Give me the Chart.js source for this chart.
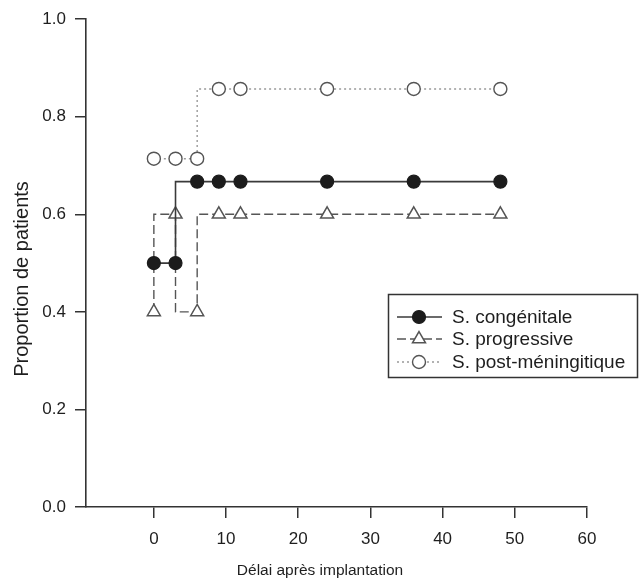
<!DOCTYPE html>
<html><head><meta charset="utf-8">
<script src="https://cdn.jsdelivr.net/npm/chart.js@4/dist/chart.umd.min.js"></script>
<style>html,body{margin:0;padding:0;background:#fff}#wrap{width:641px;height:586px}</style>
</head><body><div id="wrap"><canvas id="c" width="641" height="586"></canvas></div>
<script>
// ---- data ----
const months = [0, 3, 6, 9, 12, 24, 36, 48];
const seriesNames = ['S. congénitale', 'S. progressive', 'S. post-méningitique'];
const congenitale = [0.5, 0.5, 0.667, 0.667, 0.667, 0.667, 0.667, 0.667];
const progressive = [0.4, 0.6, 0.4, 0.6, 0.6, 0.6, 0.6, 0.6];
const postMeningitique = [0.714, 0.714, 0.714, 0.857, 0.857, 0.857, 0.857, 0.857];
const xTicks = [0, 10, 20, 30, 40, 50, 60];
const yTicks = [0, 0.2, 0.4, 0.6, 0.8, 1.0];
const yTickLabels = ['0.0', '0.2', '0.4', '0.6', '0.8', '1.0'];
const xTitle = 'Délai après implantation';
const yTitle = 'Proportion de patients';

const FONT = '"Liberation Sans", Arial, Helvetica, sans-serif';
const toPts = (vals) => months.map((m, i) => ({ x: m, y: vals[i] }));

const overlay = {
  id: 'overlay',
  afterDraw(chart) {
    const ctx = chart.ctx;
    ctx.save();
    ctx.fillStyle = '#1e1e1e';
    ctx.textBaseline = 'middle';
    // axis titles
    ctx.font = '15.5px ' + FONT;
    ctx.textAlign = 'center';
    ctx.fillText(xTitle, 320, 571);
    ctx.save();
    ctx.translate(22, 279);
    ctx.rotate(-Math.PI / 2);
    ctx.font = '20px ' + FONT;
    ctx.fillText(yTitle, 0, 0);
    ctx.restore();
    // legend box
    ctx.strokeStyle = '#333';
    ctx.lineWidth = 1.5;
    ctx.strokeRect(388.5, 294.5, 249, 83);
    const rows = [317, 339, 362];
    chart.data.datasets.forEach((ds, i) => {
      const y = rows[i];
      ctx.save();
      ctx.strokeStyle = ds.borderColor;
      ctx.lineWidth = ds.borderWidth;
      ctx.setLineDash(ds.borderDash || []);
      ctx.beginPath(); ctx.moveTo(397, y); ctx.lineTo(442, y); ctx.stroke();
      ctx.restore();
      // marker
      const cx = 419, r = ds.pointRadius;
      ctx.save();
      ctx.fillStyle = ds.pointBackgroundColor;
      ctx.strokeStyle = ds.pointBorderColor;
      ctx.lineWidth = ds.pointBorderWidth;
      ctx.setLineDash([]);
      ctx.beginPath();
      if (ds.pointStyle === 'triangle') {
        ctx.moveTo(cx, y - r);
        ctx.lineTo(cx + r * 0.866, y + r * 0.5);
        ctx.lineTo(cx - r * 0.866, y + r * 0.5);
        ctx.closePath();
      } else {
        ctx.arc(cx, y, r, 0, Math.PI * 2);
      }
      ctx.fill(); ctx.stroke();
      ctx.restore();
      ctx.fillStyle = '#1e1e1e';
      ctx.font = '19px ' + FONT;
      ctx.textAlign = 'left';
      ctx.fillText(ds.label, 452, y + 1);
    });
    ctx.restore();
  }
};

new Chart(document.getElementById('c'), {
  type: 'line',
  data: {
    datasets: [
      {
        label: seriesNames[0], data: toPts(congenitale), stepped: 'after',
        borderColor: '#3a3a3a', borderWidth: 1.6, borderDash: [],
        pointStyle: 'circle', pointRadius: 6.5, pointBackgroundColor: '#1c1c1c',
        pointBorderColor: '#1c1c1c', pointBorderWidth: 1.2
      },
      {
        label: seriesNames[1], data: toPts(progressive), stepped: 'after',
        borderColor: '#555', borderWidth: 1.4, borderDash: [9, 4],
        pointStyle: 'triangle', pointRadius: 7.5, pointBackgroundColor: '#fff',
        pointBorderColor: '#555', pointBorderWidth: 1.5
      },
      {
        label: seriesNames[2], data: toPts(postMeningitique), stepped: 'after',
        borderColor: '#999', borderWidth: 1.4, borderDash: [2, 3],
        pointStyle: 'circle', pointRadius: 6.5, pointBackgroundColor: '#fff',
        pointBorderColor: '#555', pointBorderWidth: 1.4
      }
    ]
  },
  options: {
    responsive: false,
    animation: false,
    devicePixelRatio: 1,
    layout: { padding: { top: 13, right: 54, left: 0, bottom: 0 } },
    plugins: { legend: { display: false }, tooltip: { enabled: false } },
    scales: {
      x: {
        type: 'linear', min: -9.4, max: 60,
        afterBuildTicks: (s) => { s.ticks = xTicks.map(v => ({ value: v })); },
        afterFit: (s) => { s.height = 79; },
        grid: { display: true, drawOnChartArea: false, drawTicks: true, tickLength: 11, color: '#333', lineWidth: 1.5 },
        border: { display: true, color: '#333', width: 1.6 },
        ticks: { padding: 11, color: '#1e1e1e', font: { family: FONT, size: 17 }, maxRotation: 0, autoSkip: false }
      },
      y: {
        type: 'linear', min: 0, max: 1,
        afterBuildTicks: (s) => { s.ticks = yTicks.map(v => ({ value: v })); },
        afterFit: (s) => { s.width = 86; },
        grid: { display: true, drawOnChartArea: false, drawTicks: true, tickLength: 11, color: '#333', lineWidth: 1.5 },
        border: { display: true, color: '#333', width: 1.6 },
        ticks: {
          padding: 9, color: '#1e1e1e', font: { family: FONT, size: 17 }, autoSkip: false,
          callback: (v, i) => yTickLabels[i]
        }
      }
    }
  },
  plugins: [overlay]
});
</script>
</body></html>
